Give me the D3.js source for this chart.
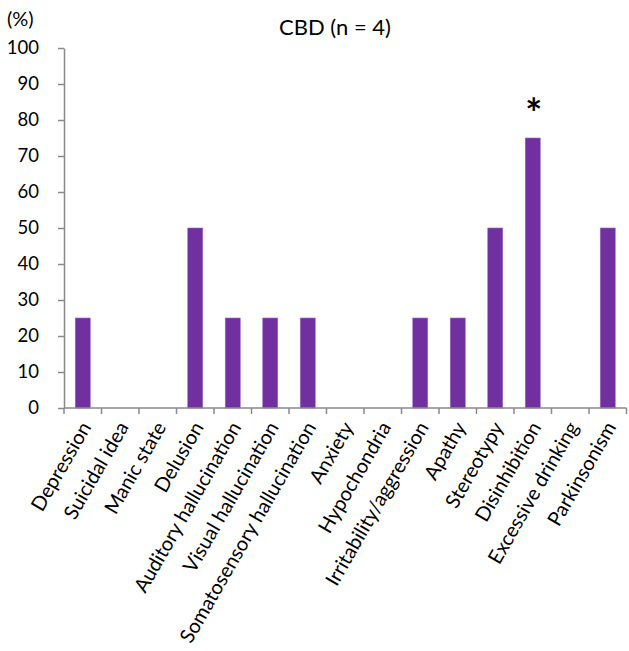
<!DOCTYPE html>
<html><head><meta charset="utf-8">
<script src="https://cdn.jsdelivr.net/npm/d3@7"></script>
<style>body{margin:0;background:#fff;} text{font-family:Lato, "Open Sans", sans-serif;}</style>
</head><body><svg id="c" width="629" height="651"></svg>
<script>
const categories = ["Depression","Suicidal idea","Manic state","Delusion","Auditory hallucination","Visual hallucination","Somatosensory hallucination","Anxiety","Hypochondria","Irritability/aggression","Apathy","Stereotypy","Disinhibition","Excessive drinking","Parkinsonism"];
const values = [25,0,0,50,25,25,25,0,0,25,25,50,75,0,50];
const yTicks = [0,10,20,30,40,50,60,70,80,90,100];
const significant = ["Disinhibition"];
const title = "CBD (n = 4)";
const unitLabel = "(%)";

const svg = d3.select("#c");
const m = {l:64, r:2.5, t:48, b:243};
const W = 629, H = 651;
const x = d3.scaleBand().domain(categories).range([m.l, W-m.r]).paddingInner(0.6).paddingOuter(0.3);
const xt = d3.scaleBand().domain(categories).range([m.l, W-m.r]);
const y = d3.scaleLinear().domain([0,100]).range([H-m.b, m.t]);
const axisColor = "#898989";

svg.append("text").attr("x", 335).attr("y", 35).attr("text-anchor","middle")
  .attr("font-size", 22).attr("fill","#000").text(title);
svg.append("text").attr("x", 7).attr("y", 26).attr("font-size", 20).attr("fill","#000").text(unitLabel);

// y axis
const ya = svg.append("g").attr("transform", `translate(${m.l},0)`)
  .call(d3.axisLeft(y).tickValues(yTicks).tickSize(6).tickPadding(19).tickSizeOuter(0));
ya.select(".domain").attr("stroke", axisColor).attr("stroke-width", 1.5);
ya.selectAll(".tick line").attr("stroke", axisColor).attr("stroke-width", 1.5);
ya.selectAll(".tick text").attr("font-size", 18.5).attr("fill","#000").attr("font-family","Lato, sans-serif");

// bars
svg.append("g").selectAll("rect").data(categories.map((c,i)=>({c, v: values[i]})).filter(d=>d.v>0))
  .join("rect")
  .attr("x", d => x(d.c)).attr("width", x.bandwidth())
  .attr("y", d => y(d.v)).attr("height", d => y(0) - y(d.v))
  .attr("fill", "#7030A0").attr("stroke","#9b6cc0").attr("stroke-width",0.6);

// x axis
const xg = svg.append("g");
xg.append("line").attr("x1", m.l).attr("x2", W-m.r).attr("y1", y(0)).attr("y2", y(0))
  .attr("stroke", axisColor).attr("stroke-width", 1.5);
const tickXs = categories.map(c => xt(c)).concat([xt(categories[categories.length-1]) + xt.bandwidth()]);
xg.selectAll("line.t").data(tickXs).join("line").attr("class","t")
  .attr("x1", d=>d).attr("x2", d=>d).attr("y1", y(0)).attr("y2", y(0)+6)
  .attr("stroke", axisColor).attr("stroke-width", 1.5);

xg.selectAll("text").data(categories).join("text")
  .attr("transform", d => `translate(${xt(d) + xt.bandwidth()/2 + 9},${y(0)+19}) rotate(-60)`)
  .attr("text-anchor","end").attr("font-size", 20).attr("fill","#000")
  .text(d => d);

// asterisks
svg.selectAll("text.star").data(significant).join("text").attr("class","star")
  .attr("x", d => x(d) + x.bandwidth()/2 + 1).attr("y", d => y(values[categories.indexOf(d)]) - 10)
  .attr("text-anchor","middle").attr("font-size", 40).attr("font-weight","bold").attr("fill","#000").text("*");
</script></body></html>
